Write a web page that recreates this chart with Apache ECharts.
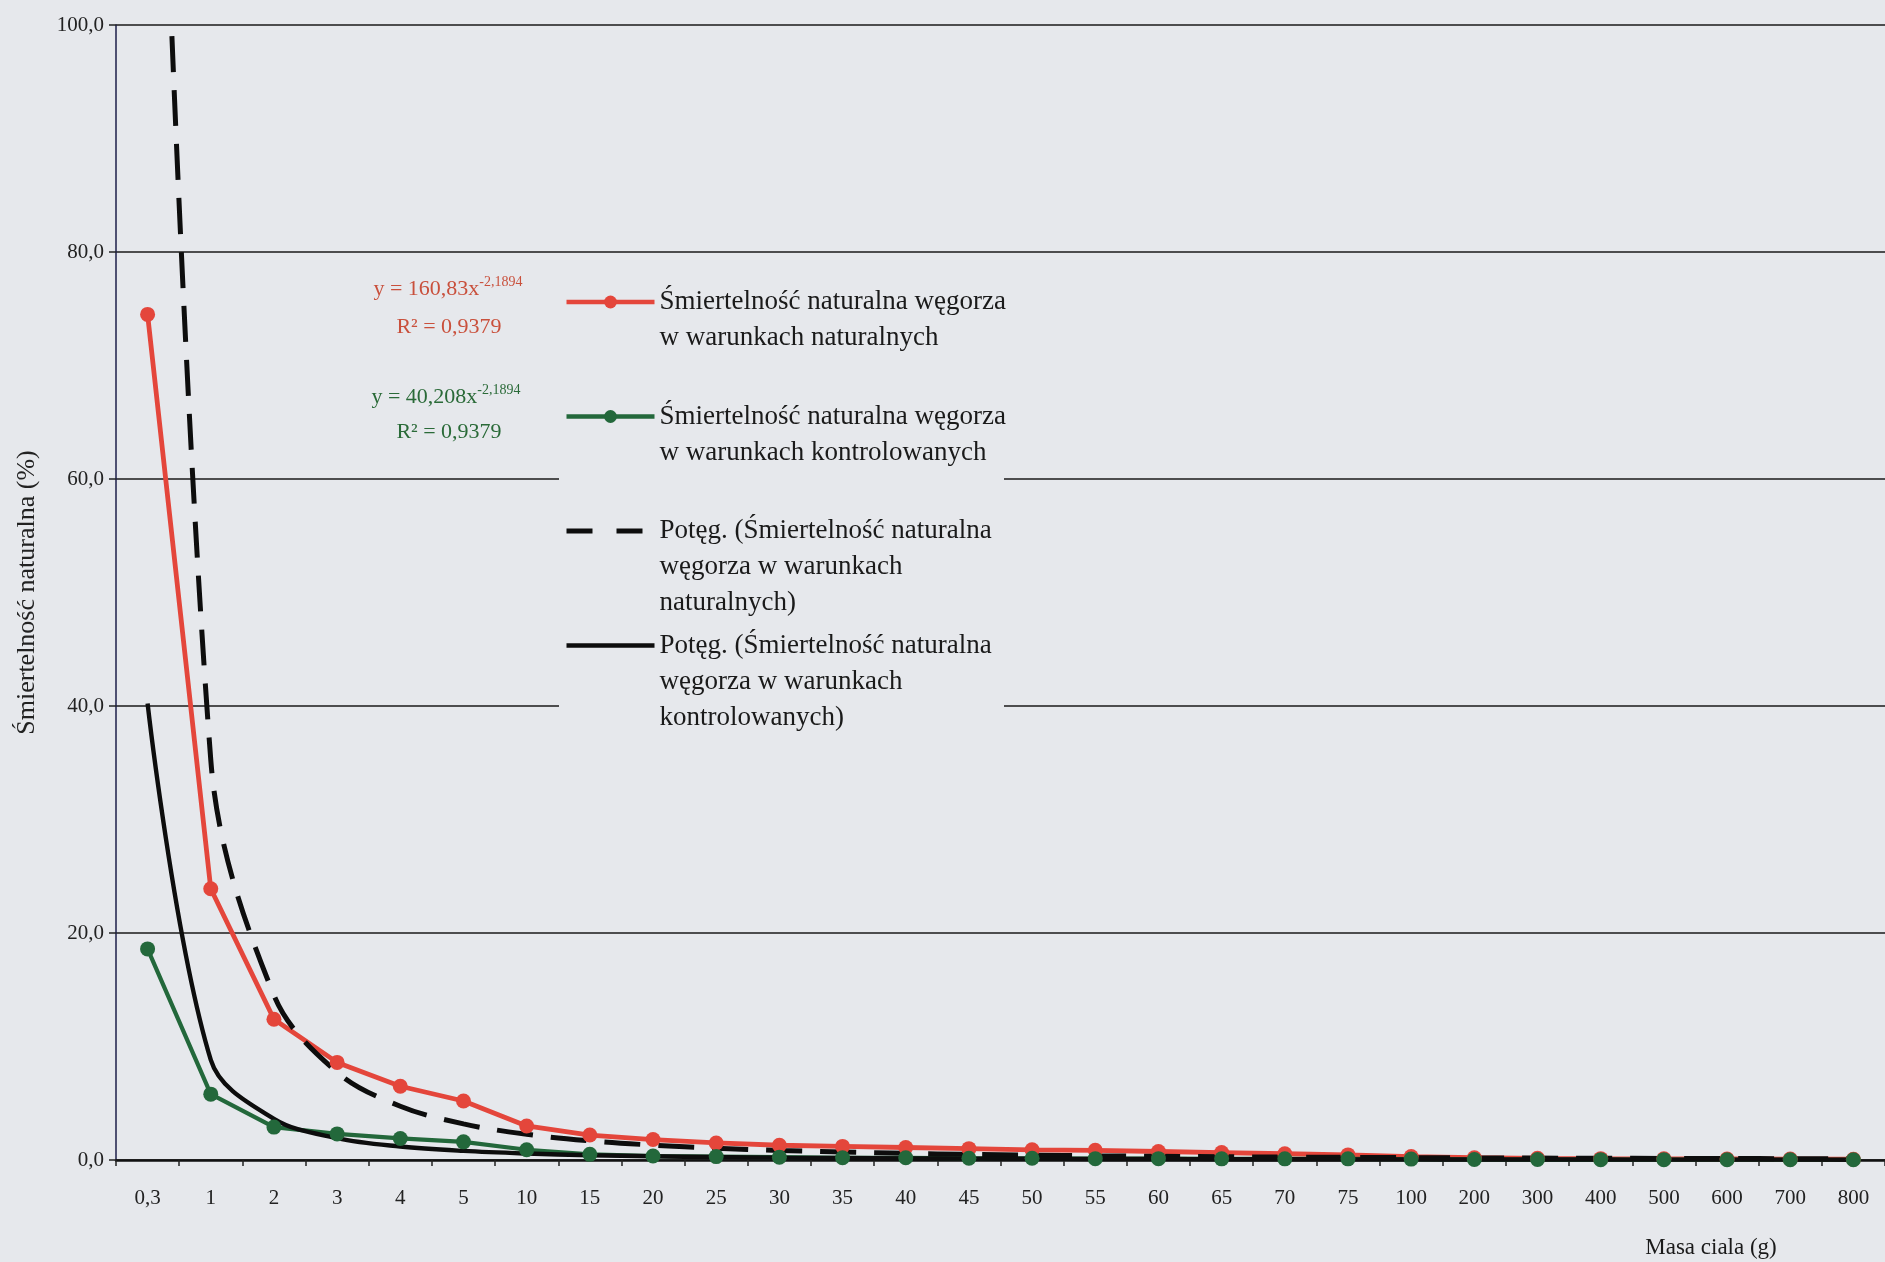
<!DOCTYPE html>
<html><head><meta charset="utf-8">
<script src="https://cdn.jsdelivr.net/npm/echarts@6/dist/echarts.min.js"></script>
<style>html,body{margin:0;padding:0;background:#e6e8ec}#c{width:1885px;height:1262px}</style>
</head><body><div id="c"></div>
<script>
const categories = ['0,3','1','2','3','4','5','10','15','20','25','30','35','40','45','50','55','60','65','70','75','100','200','300','400','500','600','700','800'];
const naturalValues = [74.5, 23.9, 12.4, 8.6, 6.5, 5.2, 3.0, 2.2, 1.8, 1.5, 1.3, 1.2, 1.1, 1.0, 0.9, 0.85, 0.75, 0.65, 0.55, 0.45, 0.3, 0.2, 0.15, 0.12, 0.1, 0.09, 0.08, 0.07];
const controlledValues = [18.6, 5.8, 2.9, 2.3, 1.9, 1.6, 0.9, 0.5, 0.35, 0.3, 0.25, 0.2, 0.2, 0.15, 0.15, 0.12, 0.12, 0.1, 0.1, 0.1, 0.08, 0.05, 0.04, 0.03, 0.03, 0.02, 0.02, 0.02];
const naturalTrend = [160.83, 35.26, 14.51, 7.73, 4.74, 3.18, 2.27, 1.69, 1.31, 1.04, 0.84, 0.70, 0.585, 0.50, 0.43, 0.37, 0.33, 0.29, 0.255, 0.23, 0.205, 0.185, 0.168, 0.153, 0.140, 0.128, 0.118, 0.109];
const controlledTrend = [40.21, 8.82, 3.63, 1.93, 1.19, 0.80, 0.57, 0.42, 0.33, 0.26, 0.21, 0.175, 0.146, 0.125, 0.107, 0.093, 0.082, 0.072, 0.064, 0.057, 0.051, 0.046, 0.042, 0.038, 0.035, 0.032, 0.030, 0.027];
const seriesNames = [
  'Śmiertelność naturalna węgorza\nw warunkach naturalnych',
  'Śmiertelność naturalna węgorza\nw warunkach kontrolowanych',
  'Potęg. (Śmiertelność naturalna\nwęgorza w warunkach\nnaturalnych)',
  'Potęg. (Śmiertelność naturalna\nwęgorza w warunkach\nkontrolowanych)'
];
const yAxisTitle = 'Śmiertelność naturalna (%)';
const xAxisTitle = 'Masa ciala (g)';
const eqNatural = ['y = 160,83x', '-2,1894', 'R² = 0,9379'];
const eqControlled = ['y = 40,208x', '-2,1894', 'R² = 0,9379'];

const SERIF = '"Liberation Serif", "DejaVu Serif", serif';
const BG = '#e6e8ec';
const RED = '#e4463b';
const GREEN = '#23683b';
const BLACK = '#0d0d0d';
const NB = '\u00a0';

// Legend text: pad every entry to 3 lines, then prepend 2 blank lines so the
// first text line sits level with the legend symbol (Excel style, top-aligned).
const legendText = n => {
  const lines = n.split('\n');
  while (lines.length < 3) lines.push(NB);
  return [NB, NB].concat(lines).join('\n');
};

const chart = echarts.init(document.getElementById('c'));
chart.setOption({
  backgroundColor: BG,
  animation: false,
  grid: { left: 116, top: 25, width: 1778, bottom: 102, containLabel: false },
  xAxis: {
    type: 'category',
    data: categories,
    boundaryGap: true,
    axisLine: { lineStyle: { color: '#111', width: 2.5 } },
    axisTick: { show: true, interval: 0, length: 6, lineStyle: { color: '#222', width: 1.5 } },
    axisLabel: { interval: 0, margin: 28, fontFamily: SERIF, fontSize: 21, color: '#222' },
    splitLine: { show: false }
  },
  yAxis: {
    type: 'value',
    min: 0, max: 100, interval: 20,
    name: yAxisTitle,
    nameLocation: 'middle',
    nameRotate: 90,
    nameGap: 76,
    nameTextStyle: { fontFamily: SERIF, fontSize: 26, color: '#222' },
    axisLine: { show: true, lineStyle: { color: '#1c1f4a', width: 1.5 } },
    axisTick: { show: true, length: 7, lineStyle: { color: '#222', width: 1.5 } },
    axisLabel: { margin: 12, fontFamily: SERIF, fontSize: 21, color: '#222',
      formatter: v => v.toFixed(1).replace('.', ',') },
    splitLine: { show: true, lineStyle: { color: '#1a1a1a', width: 1.6 } }
  },
  legend: {
    orient: 'vertical',
    left: 564,
    top: 212,
    itemWidth: 88,
    itemHeight: 16,
    itemGap: -65.5,
    padding: 0,
    selectedMode: false,
    lineStyle: { width: 4.5 },
    data: [
      { name: seriesNames[0] },
      { name: seriesNames[1] },
      { name: seriesNames[2], itemStyle: { opacity: 0 }, lineStyle: { width: 5, type: [26, 24] } },
      { name: seriesNames[3], itemStyle: { opacity: 0 }, lineStyle: { width: 4.5 } }
    ],
    formatter: legendText,
    textStyle: { fontFamily: SERIF, fontSize: 27, lineHeight: 36, color: '#1a1a1a' }
  },
  graphic: [
    { type: 'rect', z: 1, silent: true, shape: { x: 559, y: 277, width: 445, height: 456 }, style: { fill: BG } },
    { type: 'text', z: 5, x: 448, y: 289, style: { text: '{a|' + eqNatural[0] + '}{s|' + eqNatural[1] + '}', align: 'center', verticalAlign: 'middle',
      rich: { a: { fontFamily: SERIF, fontSize: 22, fill: '#c9503c' }, s: { fontFamily: SERIF, fontSize: 14, fill: '#c9503c', padding: [0, 0, 14, 0] } } } },
    { type: 'text', z: 5, x: 449, y: 327, style: { text: eqNatural[2], align: 'center', verticalAlign: 'middle', fontFamily: SERIF, fontSize: 22, fill: '#c9503c' } },
    { type: 'text', z: 5, x: 446, y: 397, style: { text: '{a|' + eqControlled[0] + '}{s|' + eqControlled[1] + '}', align: 'center', verticalAlign: 'middle',
      rich: { a: { fontFamily: SERIF, fontSize: 22, fill: '#2a6a38' }, s: { fontFamily: SERIF, fontSize: 14, fill: '#2a6a38', padding: [0, 0, 14, 0] } } } },
    { type: 'text', z: 5, x: 449, y: 432, style: { text: eqControlled[2], align: 'center', verticalAlign: 'middle', fontFamily: SERIF, fontSize: 22, fill: '#2a6a38' } },
    { type: 'text', z: 5, x: 1711, y: 1248, style: { text: xAxisTitle, align: 'center', verticalAlign: 'middle', fontFamily: SERIF, fontSize: 23, fill: '#1a1a1a' } }
  ],
  series: [
    { name: seriesNames[0], type: 'line', data: naturalValues, symbol: 'circle', symbolSize: 15,
      lineStyle: { color: RED, width: 4.8 }, itemStyle: { color: RED } },
    { name: seriesNames[1], type: 'line', data: controlledValues, symbol: 'circle', symbolSize: 15,
      lineStyle: { color: GREEN, width: 4.2 }, itemStyle: { color: GREEN } },
    { name: seriesNames[2], type: 'line', data: naturalTrend, smooth: 0.35, showSymbol: false, symbol: 'none',
      lineStyle: { color: BLACK, width: 5, type: [36, 18] }, itemStyle: { color: BLACK } },
    { name: seriesNames[3], type: 'line', data: controlledTrend, smooth: 0.35, showSymbol: false, symbol: 'none',
      lineStyle: { color: BLACK, width: 4.4 }, itemStyle: { color: BLACK } }
  ]
});
</script></body></html>
